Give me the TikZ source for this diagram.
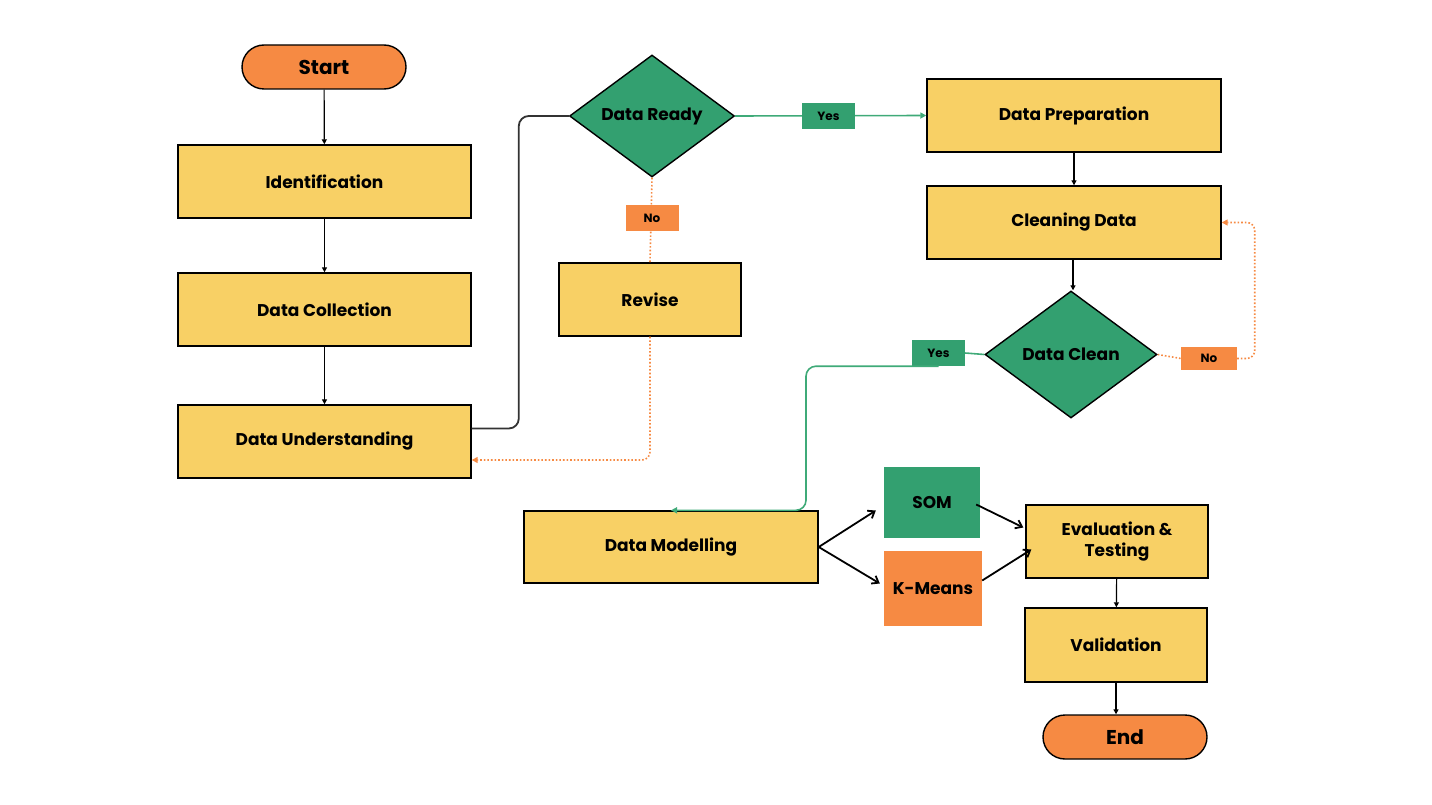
\documentclass[tikz,border=0pt]{standalone}
\usepackage{fontspec}
\setmainfont{Poppins}
\usetikzlibrary{shapes.geometric,arrows.meta,calc}
\definecolor{boxyellow}{HTML}{F8D065}
\definecolor{dgreen}{HTML}{33A070}
\definecolor{dorange}{HTML}{F68A43}
\definecolor{lgreen}{HTML}{3FAA78}
\tikzset{
  box/.style={draw=black,line width=1.4pt,fill=boxyellow,minimum height=73pt,inner sep=0pt,font=\bfseries\fontsize{17}{20}\selectfont},
  pill/.style={draw=black,line width=1.4pt,fill=dorange,rounded corners=22pt,minimum width=164pt,minimum height=44pt,inner sep=0pt,font=\bfseries\fontsize{20}{24}\selectfont},
  dia/.style={draw=black,line width=1.4pt,fill=dgreen,diamond,inner sep=0pt,font=\bfseries\fontsize{17}{20}\selectfont},
  tag/.style={inner sep=0pt,minimum width=53pt,minimum height=26pt,font=\bfseries\fontsize{12}{14}\selectfont},
  algo/.style={inner sep=0pt,font=\bfseries\fontsize{17}{20}\selectfont},
  flow/.style={draw=black,line width=1.2pt,-{Triangle[length=5pt,width=5pt]}},
  barb/.style={draw=black,line width=1.8pt,-{Straight Barb[length=6pt,width=9pt]}},
  dark/.style={draw=black!80,line width=1.8pt,rounded corners=10pt},
  gline/.style={draw=lgreen,line width=1.6pt},
  oline/.style={draw=dorange,line width=1.6pt,dotted},
  tip/.style={-{Triangle[length=6pt,width=6pt]}}
}
\begin{document}
\begin{tikzpicture}[x=1pt,y=-1pt]
\useasboundingbox (0,0) rectangle (1432,805);
% nodes
\node[pill] (start) at (324,67) {Start};
\node[box,minimum width=293pt] (id) at (324.5,181.5) {Identification};
\node[box,minimum width=293pt] (dc0) at (324.5,309.5) {Data Collection};
\node[box,minimum width=293pt] (du) at (324.5,441.5) {Data Understanding};
\node[dia,minimum width=165pt,minimum height=122pt] (dr) at (652,116) {Data Ready};
\node[box,minimum width=182pt] (rev) at (650,299.5) {Revise};
\node[box,minimum width=294pt] (dp) at (1074,115.5) {Data Preparation};
\node[box,minimum width=294pt] (cd) at (1074,222.5) {Cleaning Data};
\node[dia,minimum width=172pt,minimum height=127pt] (dcl) at (1071,354.5) {Data Clean};
\node[box,minimum width=294pt,minimum height=72pt] (dm) at (671,547) {Data Modelling};
\node[algo,fill=dgreen,minimum width=96pt,minimum height=71pt] (som) at (932,502.5) {SOM};
\node[algo,fill=dorange,minimum width=98pt,minimum height=75pt] (km) at (933,588.5) {K-Means};
\node[box,minimum width=182pt,align=center,font=\bfseries\fontsize{17}{21}\selectfont] (ev) at (1117,541.5) {Evaluation \&\\Testing};
\node[box,minimum width=182pt,minimum height=74pt] (val) at (1116,645) {Validation};
\node[pill] (end) at (1125,737) {End};
% black flow
\draw[flow] (start) -- (id);
\draw[flow] (id) -- (dc0);
\draw[flow] (dc0) -- (du);
\draw[flow] (dp) -- (cd);
\draw[flow] ([xshift=-1pt]cd.south) -- ([xshift=2pt]dcl.north);
\draw[flow] (ev) -- (val);
\draw[flow] (val.south) -- ([xshift=-9pt]end.north);
\draw[dark] ([yshift=13pt]du.east) -| ($(dr.west)+(-50,0)$) -- (dr.west);
% modelling arrows
\draw[barb] (dm.east) -- ([xshift=-8pt,yshift=-8pt]som.west);
\draw[barb] (dm.east) -- ([xshift=-4pt,yshift=5pt]km.west);
\draw[barb] ([xshift=-4pt,yshift=-2pt]som.east) -- ([xshift=-2pt,yshift=14pt]ev.west);
\draw[barb] ([yshift=8pt]km.east) -- ([xshift=6pt,yshift=-8pt]ev.west);
% green yes paths
\draw[gline,tip] (dr.east) -- (dp.west);
\node[tag,fill=dgreen] (yes1) at (828.5,116.5) {Yes};
\node[tag,fill=dgreen] (yes2) at (938.5,353) {Yes};
\draw[gline] (dcl.west) -- (yes2.east);
\draw[gline,tip,rounded corners=10pt] (yes2.south) -| ($(dm.north)+(135,0)$) -- (dm.north);
% orange no paths
\draw[oline] (dr.south) -- (rev.north);
\node[tag,fill=dorange] (no1) at (652,218) {No};
\draw[oline,tip,rounded corners=8pt] (rev.south) |- ([yshift=-18.5pt]du.east);
\draw[oline] (dcl.east) -- (1181,358.5);
\node[tag,fill=dorange,minimum width=56pt,minimum height=23pt] (no2) at (1209,358.5) {No};
\draw[oline,tip,rounded corners=8pt] (no2.east) -| ($(cd.east)+(33,0)$) -- (cd.east);
\end{tikzpicture}
\end{document}
